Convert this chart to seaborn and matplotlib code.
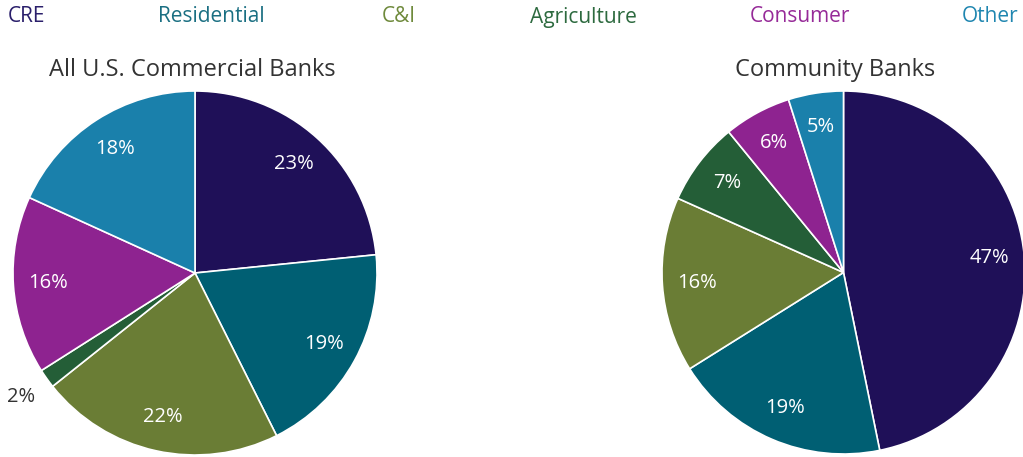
import matplotlib
matplotlib.use("Agg")
import matplotlib.pyplot as plt
import numpy as np
import seaborn as sns

sns.set_theme(style="white")
plt.rcParams["font.family"] = ["Open Sans", "DejaVu Sans"]

categories = ["CRE", "Residential", "C&I", "Agriculture", "Consumer", "Other"]
all_banks = [23.4, 19.2, 21.7, 1.7, 15.8, 18.2]
community_banks = [46.8, 19.3, 15.6, 7.4, 6.0, 4.9]
titles = ["All U.S. Commercial Banks", "Community Banks"]

palette = sns.color_palette(["#1f1058", "#005f73", "#6a7d35", "#245e37", "#8e2390", "#1a80ab"])
legend_colors = ["#2a1f6b", "#1a6f82", "#6f8a3c", "#2d6a3f", "#962a98", "#1f86b0"]

W, H = 1023, 457
fig = plt.figure(figsize=(W / 100, H / 100), dpi=100)

# pie axes in pixel coordinates: (left, top, size)
boxes = [(13, 91, 364), (662, 91, 363)]
title_x = [192, 835]

for vals, title, (x0, y0, s), tx in zip([all_banks, community_banks], titles, boxes, title_x):
    ax = fig.add_axes([x0 / W, (H - y0 - s) / H, s / W, s / H])
    wedges, _ = ax.pie(
        vals, colors=palette, startangle=90, counterclock=False,
        wedgeprops=dict(edgecolor="white", linewidth=1.2), radius=1.0,
    )
    # percentage labels: inside in white, tiny slices outside in grey
    for w, v in zip(wedges, vals):
        ang = np.deg2rad((w.theta1 + w.theta2) / 2)
        if v < 3:
            r, col = 1.17, "#333333"
        else:
            r, col = 0.81, "white"
        ax.text(r * np.cos(ang), r * np.sin(ang), f"{round(v)}%", ha="center", va="center",
                color=col, fontsize=14.5)
    ax.set_xlim(-1, 1)
    ax.set_ylim(-1, 1)
    ax.set_aspect("equal")
    ax.axis("off")
    fig.text(tx / W, 1 - 70 / H, title, ha="center", va="center", fontsize=17, color="#333333")

# legend as coloured category names across the top
legend_x = [8, 158, 382, 530, 750, 962]
for name, c, lx in zip(categories, legend_colors, legend_x):
    fig.text(lx / W, 1 - 17 / H, name, ha="left", va="center", fontsize=15, color=c)

fig.savefig("out.png", dpi=100)
